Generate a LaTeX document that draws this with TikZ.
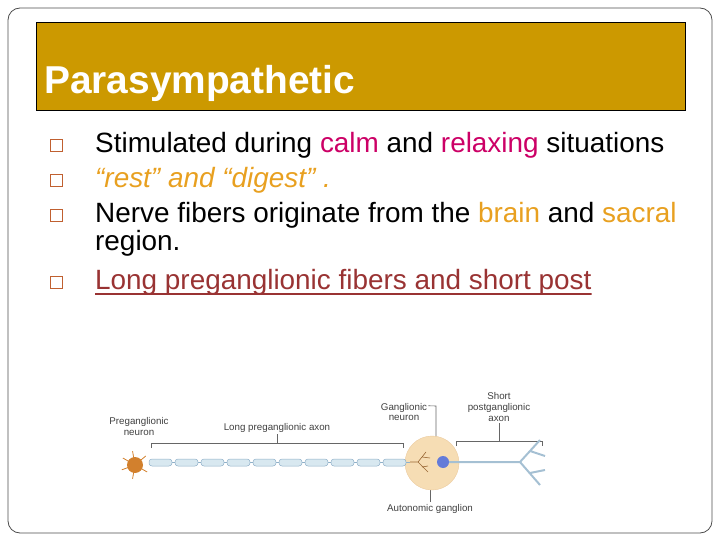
\documentclass[tikz,border=0pt]{standalone}
\usepackage{fontspec}
\setmainfont{Liberation Sans}
\definecolor{gold}{HTML}{CC9900}
\definecolor{mag}{HTML}{CC0066}
\definecolor{org}{HTML}{E8A020}
\definecolor{dred}{HTML}{993333}
\definecolor{bul}{HTML}{C06030}
\definecolor{axon}{HTML}{D8E8F0}
\definecolor{axond}{HTML}{8FB0C8}
\definecolor{gang}{HTML}{F6DDB4}
\tikzset{x=1bp,y=-1bp,
 body/.style={anchor=base west,inner sep=0,font=\fontsize{28}{32}\selectfont},
 bx/.style={draw=bul,line width=1bp},
 lab/.style={font=\fontsize{9.8}{11}\selectfont,text=black!75,align=center,inner sep=0},
 brk/.style={draw=black!60,line width=0.6bp}}
\begin{document}
\begin{tikzpicture}
\useasboundingbox (0,0) rectangle (720,540);
\draw[black!70,rounded corners=12bp,line width=0.8bp] (8,8) rectangle (712,533);
\node[draw=black,fill=gold,minimum width=649bp,minimum height=88bp,anchor=north west,inner sep=0] (title) at (36,22) {};
\node[anchor=base west,inner sep=0,text=white,font=\fontsize{39}{44}\selectfont\bfseries] (tt) at (44,94) {Parasympathetic};
\foreach \y/\n in {153/b1,188/b2,223/b3,289/b4}{\draw[bx] (50,\y-13) rectangle (62,\y-1);}
\node[body] (l1) at (95,153) {Stimulated during \textcolor{mag}{calm} and \textcolor{mag}{relaxing} situations};
\node[body,text=org] (l2) at (95,188) {\itshape “rest” and “digest” .};
\node[body] (l3) at (95,223) {Nerve fibers originate from the \textcolor{org}{brain} and \textcolor{org}{sacral}};
\node[body] (l3b) at (95,251) {region.};
\node[body,text=dred] (l4) at (95,289) {Long preganglionic fibers and short post};
\draw[dred,line width=1.6bp] (l4.base west) ++(0,5) -- ([yshift=-5bp]l4.base east);
% neuron diagram
\node[lab,anchor=north] (pn) at (139,417) {Preganglionic\\neuron};
\node[lab] (la) at (277,428) {Long preganglionic axon};
\node[lab] (gn) at (404,412) {Ganglionic\\neuron};
\node[lab] (sp) at (499,407) {Short\\postganglionic\\axon};
\node[lab] (ag) at (430,509) {Autonomic ganglion};
\draw[brk] (151,448) -- (151,443) -- (403,443) -- (403,448);
\draw[brk] (277,443) -- (277,434);
\draw[brk] (456,446) -- (456,441) -- (542,441) -- (542,446);
\draw[brk] (499,441) -- (499,423);
\draw[brk] (gn.north east) ++(1,3) -- (436,406) -- (436,456);
\draw[brk] (430,482) -- (430,502);
\node[circle,fill=gang,draw=gang!80!brown,minimum size=54bp,inner sep=0] (g) at (432,463) {};
\draw[axond,line width=1bp] (149,462.5) -- (410,462.5);
\foreach \i in {0,...,9}{\draw[fill=axon,draw=axond,line width=0.5bp,rounded corners=3bp] (149+\i*26,459) rectangle (172+\i*26,466);}
\node[circle,fill=brown!70!orange,minimum size=16bp,inner sep=0] (cb) at (135,465) {};
\foreach \a in {30,100,160,210,260,320}{\draw[brown!70!orange,line width=0.8bp] (cb.center) -- ++(\a:14);}
\draw[brown!80!black,line width=0.6bp] (410,462) -- (418,462) -- (426,452) (418,462) -- (428,472) (422,457)--(430,458) (422,467) -- (428,466);
\node[circle,fill=blue!30!axond,minimum size=12bp,inner sep=0] (gc) at (443,462) {};
\draw[axond!80,line width=2bp] (gc) -- (520,462) -- (540,440) (520,462) -- (540,485) (530,451) -- (545,456) (530,473) -- (545,470);
\end{tikzpicture}
\end{document}
